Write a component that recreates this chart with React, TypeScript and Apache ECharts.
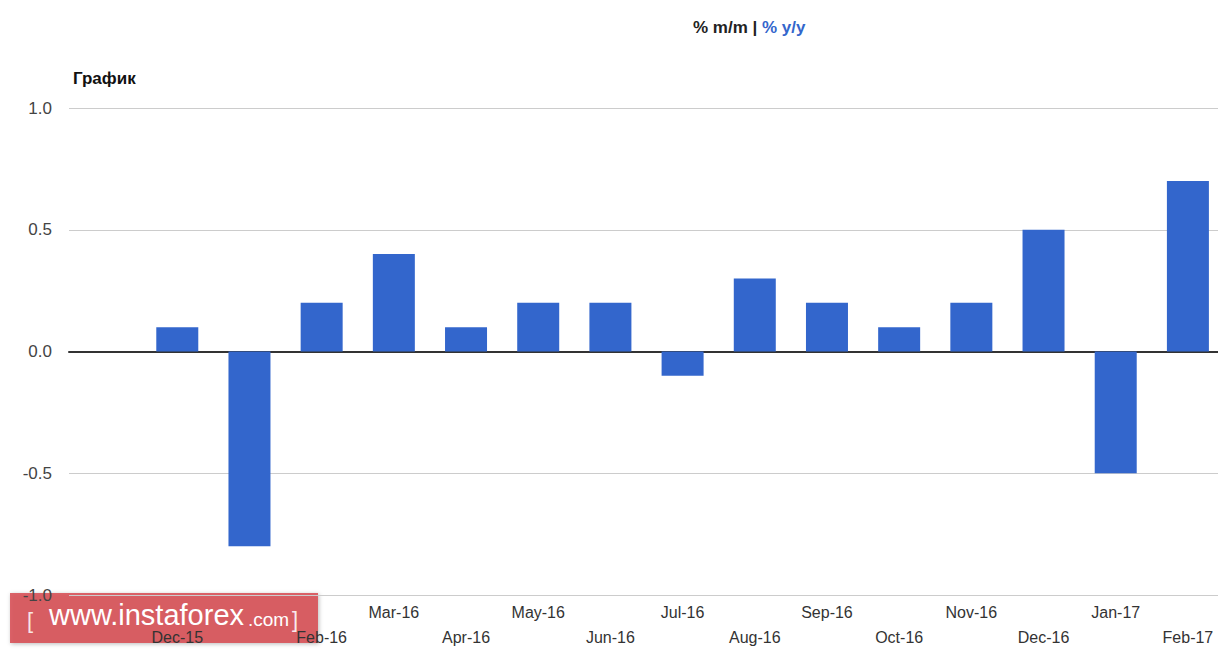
import React, { useEffect, useRef } from "react";
import * as echarts from "echarts";

const categories = [
  "Nov-15", "Dec-15", "Jan-16", "Feb-16", "Mar-16", "Apr-16", "May-16", "Jun-16",
  "Jul-16", "Aug-16", "Sep-16", "Oct-16", "Nov-16", "Dec-16", "Jan-17", "Feb-17",
];
const mmValues: (number | null)[] = [
  null, 0.1, -0.8, 0.2, 0.4, 0.1, 0.2, 0.2, -0.1, 0.3, 0.2, 0.1, 0.2, 0.5, -0.5, 0.7,
];
// labels hidden under the watermark in the reference
const hiddenLabelIdx = [0, 2];
const yMin = -1;
const yMax = 1;
const yInterval = 0.5;

export default function App() {
  const ref = useRef<HTMLDivElement>(null);
  useEffect(() => {
    if (!ref.current) return;
    const chart = echarts.init(ref.current, undefined, { renderer: "svg" });
    const font = "Arial, 'Liberation Sans', sans-serif";
    chart.setOption({
      animation: false,
      backgroundColor: "#ffffff",
      textStyle: { fontFamily: font },
      title: [
        {
          text: "График",
          left: 68,
          top: 65,
          textStyle: { fontSize: 17, fontWeight: "bold", color: "#111" },
        },
        {
          text: "{a|% m/m | }{b|% y/y}",
          left: 688,
          top: 14,
          textStyle: {
            rich: {
              a: { fontSize: 17, fontWeight: "bold", color: "#222" },
              b: { fontSize: 17, fontWeight: "bold", color: "#3366cc" },
            },
          },
        },
      ],
      grid: { left: 69, right: 0, top: 108, height: 492, containLabel: false },
      xAxis: {
        type: "category",
        data: categories,
        axisLine: { show: true, onZero: true, lineStyle: { color: "#333", width: 2 } },
        axisTick: { show: false },
        axisLabel: {
          interval: 0,
          margin: 5,
          fontSize: 16,
          color: "#333",
          lineHeight: 25,
          formatter: (v: string, i: number) =>
            hiddenLabelIdx.indexOf(i) >= 0 ? "" : i % 2 === 0 ? v : "\n" + v,
        },
      },
      yAxis: {
        type: "value",
        min: yMin,
        max: yMax,
        interval: yInterval,
        axisLine: { show: false },
        axisTick: { show: false },
        splitLine: { lineStyle: { color: "#cccccc", width: 1 } },
        axisLabel: {
          margin: 17,
          fontSize: 17,
          color: "#444",
          formatter: (v: number) => v.toFixed(1),
        },
      },
      series: [
        {
          type: "bar",
          data: mmValues,
          barWidth: 42,
          itemStyle: { color: "#3366cc" },
        },
      ],
      graphic: [
        {
          type: "group",
          z: 100,
          children: [
            {
              type: "rect",
              shape: { x: 10, y: 593, width: 308, height: 50 },
              style: {
                fill: "rgba(214,78,84,0.88)",
                shadowBlur: 4,
                shadowColor: "rgba(0,0,0,0.3)",
                shadowOffsetX: 1,
                shadowOffsetY: 1,
              },
            },
            {
              type: "text",
              x: 27,
              y: 620,
              style: {
                text: "[",
                fill: "rgba(255,255,255,0.85)",
                fontSize: 22,
                fontFamily: font,
                verticalAlign: "middle",
              },
            },
            {
              type: "text",
              x: 49,
              y: 615,
              style: {
                text: "www.instaforex",
                fill: "#ffffff",
                fontSize: 29,
                fontFamily: font,
                verticalAlign: "middle",
              },
            },
            {
              type: "text",
              x: 248,
              y: 619,
              style: {
                text: ".com",
                fill: "#ffffff",
                fontSize: 19,
                fontFamily: font,
                verticalAlign: "middle",
              },
            },
            {
              type: "text",
              x: 292,
              y: 619,
              style: {
                text: "]",
                fill: "rgba(255,255,255,0.9)",
                fontSize: 22,
                fontFamily: font,
                verticalAlign: "middle",
              },
            },
          ],
        },
      ],
    });
    return () => chart.dispose();
  }, []);
  return (
    <div
      ref={ref}
      style={{ position: "fixed", left: 0, top: 0, width: 1224, height: 650 }}
    />
  );
}
